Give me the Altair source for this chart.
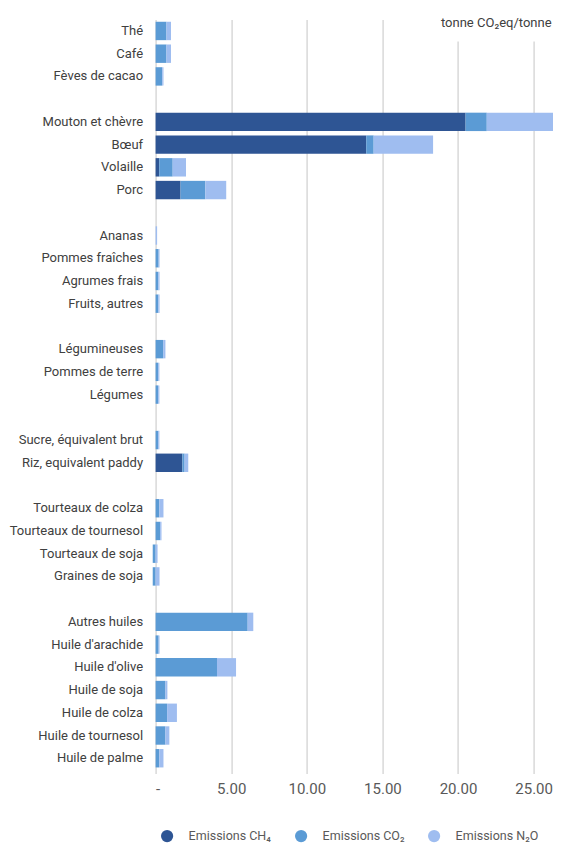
import altair as alt
import pandas as pd

categories = [
    "Thé", "Café", "Fèves de cacao", "_1",
    "Mouton et chèvre", "Bœuf", "Volaille", "Porc", "_2",
    "Ananas", "Pommes fraîches", "Agrumes frais", "Fruits, autres", "_3",
    "Légumineuses", "Pommes de terre", "Légumes", "_4",
    "Sucre, équivalent brut", "Riz, equivalent paddy", "_5",
    "Tourteaux de colza", "Tourteaux de tournesol", "Tourteaux de soja", "Graines de soja", "_6",
    "Autres huiles", "Huile d'arachide", "Huile d'olive", "Huile de soja",
    "Huile de colza", "Huile de tournesol", "Huile de palme",
]
ch4 = [0, 0, 0, 0,
       20.5, 13.93, 0.24, 1.65, 0,
       0, 0, 0, 0, 0,
       0, 0, 0, 0,
       0, 1.77, 0,
       0, 0, 0, 0, 0,
       0, 0, 0, 0, 0, 0, 0]
co2 = [0.72, 0.72, 0.44, 0,
       1.4, 0.49, 0.89, 1.64, 0,
       0, 0.2, 0.18, 0.18, 0,
       0.5, 0.17, 0.17, 0,
       0.17, 0.15, 0,
       0.25, 0.3, -0.19, -0.19, 0,
       6.09, 0.2, 4.06, 0.65, 0.76, 0.65, 0.24]
n2o = [0.3, 0.3, 0.08, 0,
       5.5, 3.93, 0.88, 1.38, 0,
       0.1, 0.06, 0.08, 0.08, 0,
       0.15, 0.08, 0.08, 0,
       0.08, 0.24, 0,
       0.27, 0.09, 0.13, 0.26, 0,
       0.37, 0.06, 1.26, 0.13, 0.65, 0.26, 0.28]
series = ["Emissions CH₄", "Emissions CO₂", "Emissions N₂O"]
colors = ["#2E5594", "#5B9BD5", "#9FBDF0"]
x_ticks = [0, 5, 10, 15, 20, 25]
unit_label = ["tonne CO₂eq/tonne"]

rows = []
for i, c in enumerate(categories):
    for k, vals in enumerate([ch4, co2, n2o]):
        rows.append({"cat": c, "series": series[k], "value": vals[i], "ord": k})
df = pd.DataFrame(rows)

W = 397.4
H = 750
LABEL_FONT = "Roboto"

bars = alt.Chart(df).mark_bar().encode(
    x=alt.X(
        "value:Q", stack="zero",
        scale=alt.Scale(domain=[0, 26.28], nice=False, zero=True),
        axis=alt.Axis(
            values=x_ticks,
            labelExpr="datum.value == 0 ? '-' : format(datum.value, '.2f')",
            title=None, domain=False, grid=True, gridColor="#d9d9d9", gridWidth=1.5,
            ticks=True, tickSize=4, tickColor="#d9d9d9", tickWidth=1.5,
            labelFont="Roboto", labelFontSize=15, labelColor="#595959", labelPadding=8,
        ),
    ),
    y=alt.Y(
        "cat:N", sort=categories,
        scale=alt.Scale(paddingInner=0.19, paddingOuter=0.095),
        axis=alt.Axis(
            title=None, domain=False, ticks=False, grid=False,
            labelExpr="indexof(datum.value, '_') == 0 ? '' : datum.value",
            labelFont=LABEL_FONT, labelFontSize=13, labelColor="#404040",
            labelPadding=13, labelLimit=200,
        ),
    ),
    color=alt.Color(
        "series:N",
        scale=alt.Scale(domain=series, range=colors),
        legend=alt.Legend(
            title=None, orient="none", legendX=5, legendY=810, direction="horizontal",
            columns=3, symbolType="circle", symbolSize=150, symbolStrokeWidth=0,
            labelFont=LABEL_FONT, labelFontSize=12.5, labelColor="#595959",
            columnPadding=23, labelOffset=15, padding=0,
        ),
    ),
    order=alt.Order("ord:Q"),
)

cover = alt.Chart(pd.DataFrame({"a": [0]})).mark_rect(color="white").encode(
    x=alt.value(285), x2=alt.value(398), y=alt.value(-1), y2=alt.value(22)
)

unit = alt.Chart(pd.DataFrame({"t": unit_label})).mark_text(
    align="right", baseline="middle", font=LABEL_FONT, fontSize=13, color="#404040"
).encode(x=alt.value(396), y=alt.value(3), text="t:N")

chart = alt.layer(bars, cover, unit).properties(
    width=W, height=H,
    autosize=alt.AutoSizeParams(type="none"),
    padding={"left": 147.6, "top": 11.6, "right": 0, "bottom": 74.4},
    background="white",
).configure_view(stroke=None)

chart.save("out.html", embed_options={"renderer": "svg", "actions": False})
